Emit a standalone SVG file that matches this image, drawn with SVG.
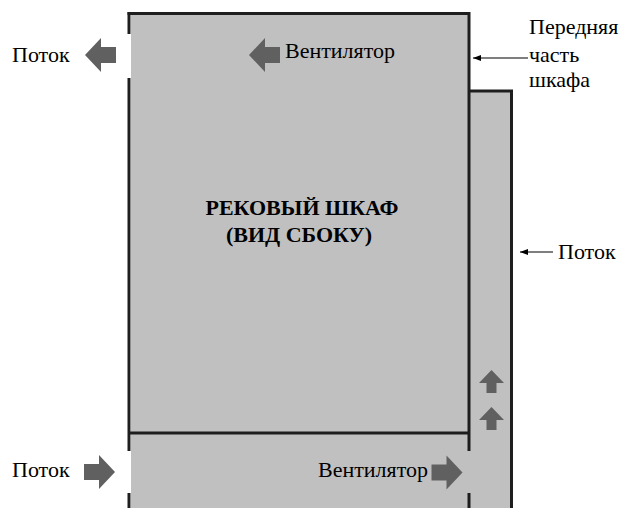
<svg xmlns="http://www.w3.org/2000/svg" width="623" height="508" viewBox="0 0 623 508">
  <defs>
    <path id="arrL" d="M0,0 L16,-17 L16,-8 L31,-8 L31,8 L16,8 L16,17 Z" fill="#606060"/>
    <path id="arrR" d="M0,0 L-16,-17 L-16,-8 L-31,-8 L-31,8 L-16,8 L-16,17 Z" fill="#606060"/>
    <path id="arrU" d="M0,0 L12.5,13 L5,13 L5,23 L-5,23 L-5,13 L-12.5,13 Z" fill="#606060"/>
    <marker id="tip" viewBox="0 0 8 6" refX="8" refY="3" markerWidth="8" markerHeight="6" markerUnits="userSpaceOnUse" orient="auto">
      <path d="M0,0 L8,3 L0,6 Z" fill="#000"/>
    </marker>
  </defs>

  <rect width="623" height="508" fill="#fff"/>

  <g id="side-panel">
    <rect x="469" y="91" width="42.5" height="417" fill="#c0c0c0"/>
    <path d="M469,91 H511.5 V508" stroke="#1e1e1e" stroke-width="3" fill="none"/>
  </g>

  <g id="cabinet">
    <rect x="131" y="15" width="338" height="493" fill="#c0c0c0"/>
    <g stroke="#1e1e1e" stroke-width="3" fill="none">
      <path d="M129,12 V34 M129,78 V451 M129,493 V508"/>
      <path d="M127.5,13.5 H469 V451 M469,493 V508"/>
      <path d="M129,433 H469"/>
    </g>
    <text x="302" y="215" font-family="Liberation Serif" font-size="22" font-weight="bold" text-anchor="middle" fill="#000">РЕКОВЫЙ ШКАФ</text>
    <text x="299" y="242" font-family="Liberation Serif" font-size="22" font-weight="bold" text-anchor="middle" fill="#000">(ВИД СБОКУ)</text>
  </g>

  <g id="fan-top">
    <use href="#arrL" x="249" y="55"/>
    <text x="285" y="58" font-family="Liberation Serif" font-size="22" fill="#000">Вентилятор</text>
  </g>

  <g id="flow-top-left">
    <use href="#arrL" x="85" y="55"/>
    <text x="12" y="62" font-family="Liberation Serif" font-size="22" fill="#000">Поток</text>
  </g>

  <g id="flow-bottom-left">
    <use href="#arrR" x="115" y="472"/>
    <text x="12" y="477" font-family="Liberation Serif" font-size="22" fill="#000">Поток</text>
  </g>

  <g id="fan-bottom">
    <use href="#arrR" x="462.5" y="472.5"/>
    <text x="318" y="477" font-family="Liberation Serif" font-size="22" fill="#000">Вентилятор</text>
  </g>

  <g id="flow-up">
    <use href="#arrU" x="491.5" y="370"/>
    <use href="#arrU" x="491.5" y="407"/>
  </g>

  <g id="front-label">
    <text x="529" y="34" font-family="Liberation Serif" font-size="22" fill="#000">Передняя</text>
    <text x="529" y="62" font-family="Liberation Serif" font-size="22" fill="#000">часть</text>
    <text x="529" y="87" font-family="Liberation Serif" font-size="22" fill="#000">шкафа</text>
  </g>

  <g id="flow-right">
    <text x="558" y="259" font-family="Liberation Serif" font-size="22" fill="#000">Поток</text>
  </g>

  <g id="connectors" stroke="#000" stroke-width="1.2" fill="none">
    <line x1="528" y1="58" x2="473" y2="58" marker-end="url(#tip)"/>
    <line x1="553" y1="252" x2="520" y2="252" marker-end="url(#tip)"/>
  </g>
</svg>
